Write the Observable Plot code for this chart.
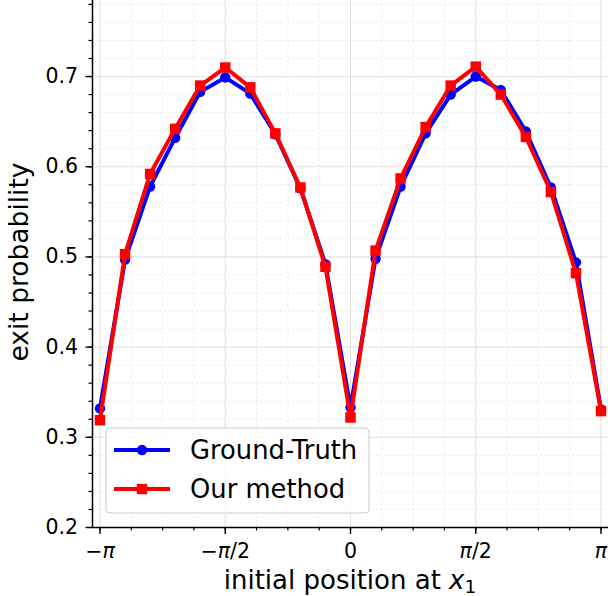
<!DOCTYPE html>
<html>
<head>
<meta charset="utf-8">
<script src="https://cdn.jsdelivr.net/npm/d3@7"></script>
<script src="https://cdn.jsdelivr.net/npm/@observablehq/plot@0.6"></script>
<style>
  html, body { margin: 0; padding: 0; background: white; }
  #chart { width: 608px; height: 596px; }
</style>
</head>
<body>
<div id="chart"></div>
<script>
// x positions as multiples of π
const xMultiples = [-1, -0.9, -0.8, -0.7, -0.6, -0.5, -0.4, -0.3, -0.2, -0.1, 0, 0.1, 0.2, 0.3, 0.4, 0.5, 0.6, 0.7, 0.8, 0.9, 1];
const groundTruth = [0.332, 0.497, 0.578, 0.632, 0.683, 0.699, 0.681, 0.636, 0.576, 0.492, 0.333, 0.498, 0.578, 0.637, 0.680, 0.700, 0.685, 0.639, 0.577, 0.494, 0.331];
const ourMethod   = [0.319, 0.503, 0.592, 0.642, 0.690, 0.710, 0.688, 0.637, 0.577, 0.489, 0.322, 0.507, 0.587, 0.644, 0.690, 0.711, 0.680, 0.633, 0.572, 0.482, 0.329];
const seriesNames = ["Ground-Truth", "Our method"];
const xTickMultiples = [-1, -0.5, 0, 0.5, 1];
const xTickLabels = ["−π", "−π/2", "0", "π/2", "π"];
const xMinorMultiples = [-1, -0.875, -0.75, -0.625, -0.5, -0.375, -0.25, -0.125, 0, 0.125, 0.25, 0.375, 0.5, 0.625, 0.75, 0.875, 1];
const yTicks = [0.2, 0.3, 0.4, 0.5, 0.6, 0.7];
const yMinorTicks = [0.2, 0.22, 0.24, 0.26, 0.28, 0.3, 0.32, 0.34, 0.36, 0.38, 0.4, 0.42, 0.44, 0.46, 0.48, 0.5, 0.52, 0.54, 0.56, 0.58, 0.6, 0.62, 0.64, 0.66, 0.68, 0.7, 0.72, 0.74, 0.76, 0.78];
const yLabel = "exit probability";
const xLabelParts = ["initial position at ", "x", "1"];

const PI = Math.PI;
const gt = xMultiples.map((m, i) => ({x: m * PI, y: groundTruth[i]}));
const om = xMultiples.map((m, i) => ({x: m * PI, y: ourMethod[i]}));
const xMajor = xTickMultiples.map(m => m * PI);
const xMinor = xMinorMultiples.map(m => m * PI);
const labelOf = new Map(xMajor.map((v, i) => [v, xTickLabels[i]]));

const font = "DejaVu Sans, sans-serif";
const blue = "#0000ff", red = "#ff0000";

const chart = Plot.plot({
  width: 608,
  height: 596,
  marginLeft: 92,
  marginRight: 0,
  marginTop: 0,
  marginBottom: 69,
  style: {fontFamily: font, fontSize: "20px", background: "white", color: "black"},
  x: {domain: [-PI - 0.094, PI + 0.094], axis: null},
  y: {domain: [0.2, 0.7843], axis: null},
  marks: [
    Plot.ruleX(xMinor, {stroke: "#e0e0e0", strokeDasharray: "1.5,2.5", strokeWidth: 0.8}),
    Plot.ruleY(yMinorTicks, {stroke: "#e0e0e0", strokeDasharray: "1.5,2.5", strokeWidth: 0.8}),
    Plot.ruleX(xMajor, {stroke: "#e2e2e2", strokeWidth: 1}),
    Plot.ruleY(yTicks, {stroke: "#e2e2e2", strokeWidth: 1}),
    Plot.line(gt, {x: "x", y: "y", stroke: blue, strokeWidth: 4}),
    Plot.dot(gt, {x: "x", y: "y", fill: blue, r: 5.2, symbol: "circle"}),
    Plot.line(om, {x: "x", y: "y", stroke: red, strokeWidth: 4}),
    Plot.dot(om, {x: "x", y: "y", fill: red, r: 5.9, symbol: "square"}),
    Plot.axisY({ticks: yMinorTicks, tickSize: 3.5, tickFormat: () => "", label: null, strokeWidth: 1.2}),
    Plot.axisY({ticks: yTicks, tickSize: 6.5, tickPadding: 8, tickFormat: d => d.toFixed(1), label: null, fontSize: 20.5, strokeWidth: 1.4}),
    Plot.axisX({ticks: xMinor, tickSize: 3.5, tickFormat: () => "", label: null, strokeWidth: 1.2}),
    Plot.axisX({ticks: xMajor, tickSize: 7, tickPadding: 9, tickFormat: d => labelOf.get(d), label: null, fontSize: 20.5, strokeWidth: 1.4}),
    Plot.ruleX([-PI - 0.094], {stroke: "black", strokeWidth: 1.5}),
    Plot.ruleY([0.2], {stroke: "black", strokeWidth: 1.5})
  ]
});

document.getElementById("chart").appendChild(chart);

const svg = d3.select(chart);

// italic π in x tick labels (mathtext style)
svg.selectAll("text").each(function() {
  const t = this.textContent;
  if (!t.includes("π")) return;
  const sel = d3.select(this);
  const parts = t.split(/(π)/).filter(s => s.length);
  sel.text(null);
  parts.forEach(p => {
    sel.append("tspan").attr("font-style", p === "π" ? "italic" : "normal").text(p);
  });
});

// y axis label
svg.append("text")
  .attr("transform", "translate(28,262) rotate(-90)")
  .attr("text-anchor", "middle")
  .attr("font-family", font)
  .attr("font-size", 26.5)
  .attr("fill", "black")
  .text(yLabel);

// x axis label with italic x and subscript 1
const xl = svg.append("text")
  .attr("x", 350)
  .attr("y", 589)
  .attr("text-anchor", "middle")
  .attr("font-family", font)
  .attr("font-size", 26)
  .attr("fill", "black");
xl.append("tspan").text(xLabelParts[0]);
xl.append("tspan").attr("font-style", "italic").text(xLabelParts[1]);
xl.append("tspan").attr("font-size", 18.5).attr("dy", 4).text(xLabelParts[2]);

// legend
const lg = svg.append("g").attr("text-anchor", "start");
lg.append("rect")
  .attr("x", 106).attr("y", 428).attr("width", 263).attr("height", 85)
  .attr("rx", 4).attr("fill", "white").attr("fill-opacity", 0.8)
  .attr("stroke", "#cccccc").attr("stroke-width", 1);
const rows = [{name: seriesNames[0], color: blue, sym: "circle", y: 450}, {name: seriesNames[1], color: red, sym: "square", y: 489}];
rows.forEach(r => {
  lg.append("line").attr("x1", 114).attr("x2", 170).attr("y1", r.y).attr("y2", r.y)
    .attr("stroke", r.color).attr("stroke-width", 4);
  if (r.sym === "circle") {
    lg.append("circle").attr("cx", 142).attr("cy", r.y).attr("r", 5.2).attr("fill", r.color);
  } else {
    lg.append("rect").attr("x", 142 - 5.2).attr("y", r.y - 5.2).attr("width", 10.4).attr("height", 10.4).attr("fill", r.color);
  }
  lg.append("text").attr("x", 190).attr("y", r.y).attr("dy", "0.36em").attr("text-anchor", "start")
    .attr("font-family", font).attr("font-size", 25.8).attr("fill", "black").text(r.name);
});
</script>
</body>
</html>
